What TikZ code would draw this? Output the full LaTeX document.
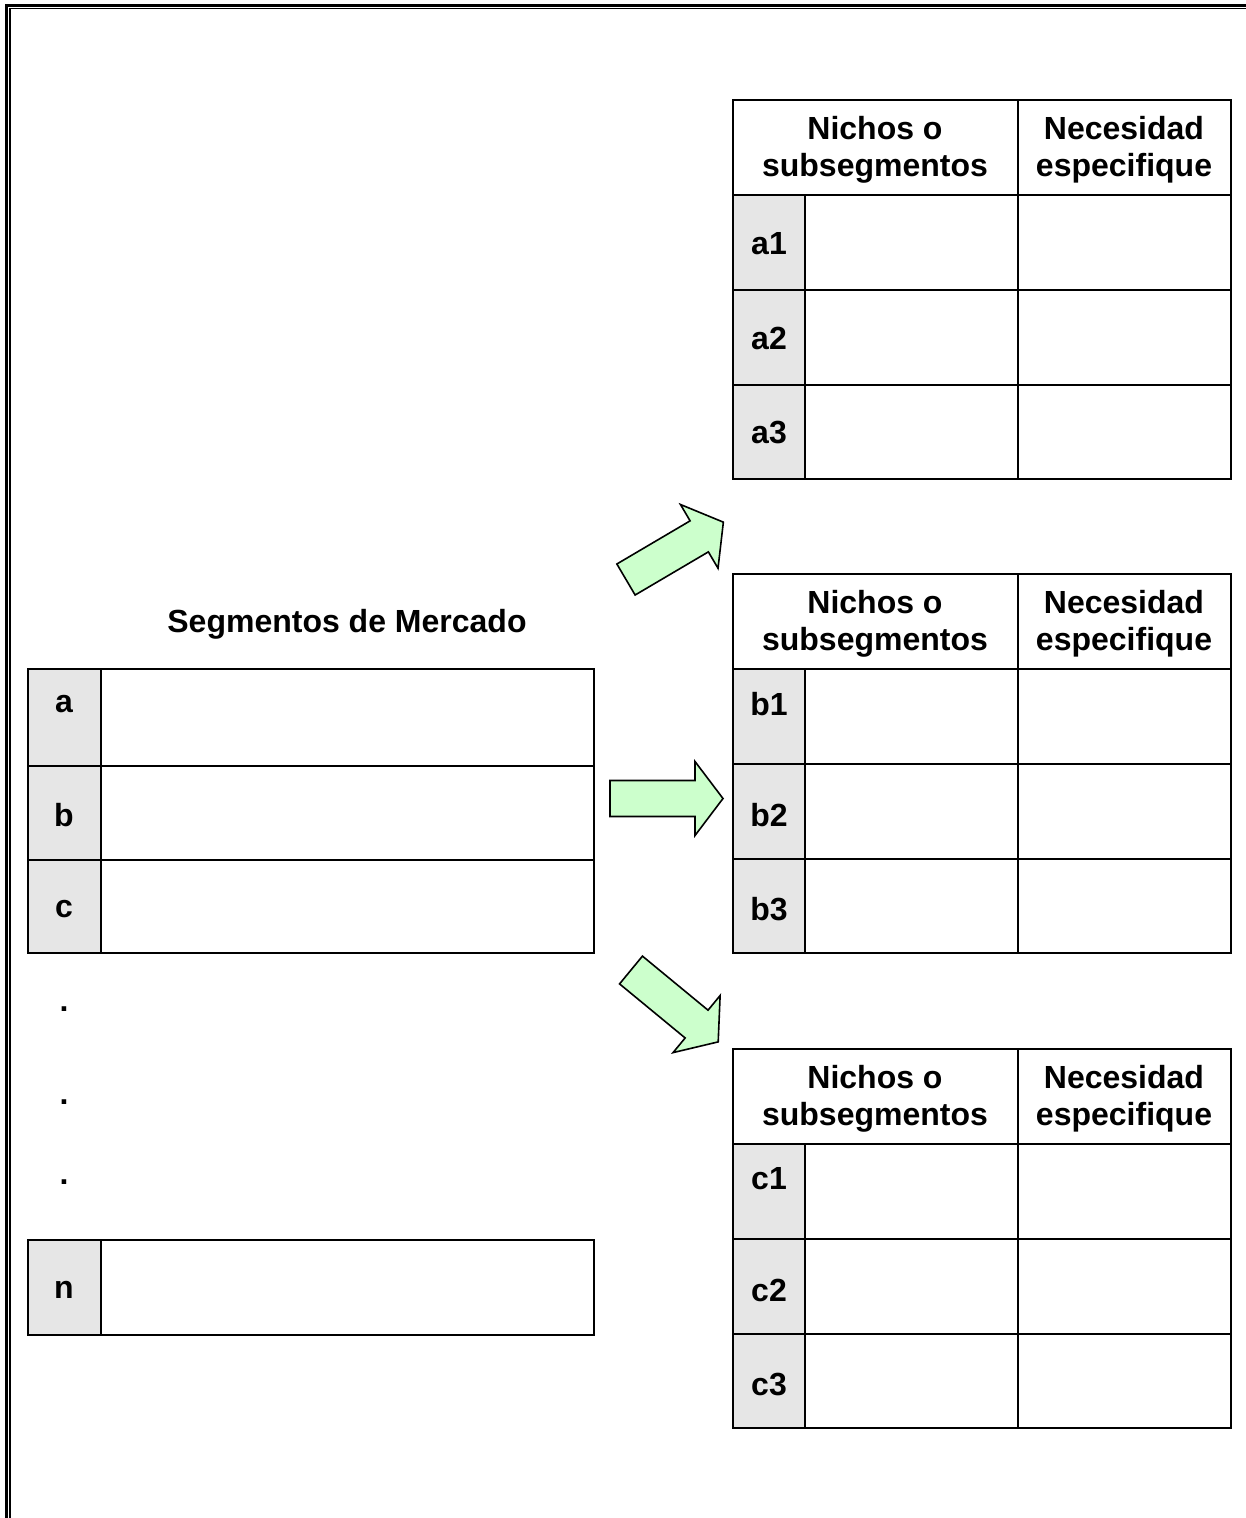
\documentclass[tikz,border=0pt]{standalone}
\usepackage{fontspec}
\setmainfont{Liberation Sans}
\definecolor{keygray}{RGB}{230,230,230}
\definecolor{arrowgreen}{RGB}{204,255,204}

% One table of niches: #1 top edge, #2 name prefix, #3-#5 label heights
\newcommand\nichetable[5]{%
  \fill[keygray] (733,#1+95) rectangle (805,#1+379);
  \draw[grid] (733,#1) rectangle (1231,#1+379);
  \draw[grid] (733,#1+95) -- (1231,#1+95)
              (733,#1+190) -- (1231,#1+190)
              (733,#1+285) -- (1231,#1+285)
              (1018,#1) -- (1018,#1+379)
              (805,#1+95) -- (805,#1+379);
  \node[head] (#2head) at (875,#1+50) {Nichos o\\subsegmentos};
  \node[head] (#2need) at (1124,#1+50) {Necesidad\\especifique};
  \node[lbl] (#21) at (769,#3+2) {#21};
  \node[lbl] (#22) at (769,#4+2) {#22};
  \node[lbl] (#23) at (769,#5+2) {#23};
}

\begin{document}
\begin{tikzpicture}[x=1pt,y=-1pt,
  grid/.style={line width=2pt},
  lbl/.style={font=\fontsize{32}{37}\selectfont\bfseries, inner sep=0pt},
  head/.style={lbl, align=center},
  bigarrow/.style={draw=black, line width=1.6pt, fill=arrowgreen, line join=miter},
  blockarrow/.pic={\draw[bigarrow] (0pt,18pt) -- (85pt,18pt) -- (85pt,37pt)
      -- (113pt,0pt) -- (85pt,-37pt) -- (85pt,-18pt) -- (0pt,-18pt) -- cycle;}]

\useasboundingbox (0,0) rectangle (1246,1518);

% page frame: double rule on the top and left sides
\draw[line width=3pt] (6.5,1530) -- (6.5,5) -- (1260,5);
\draw[line width=1.5pt] (10,1530) -- (10,8.5) -- (1260,8.5);

% market segments
\node[lbl] (title) at (347,624) {Segmentos de Mercado};
\fill[keygray] (28,669) rectangle (101,953);
\draw[grid] (28,669) rectangle (594,953);
\draw[grid] (28,766) -- (594,766) (28,860) -- (594,860) (101,669) -- (101,953);
\node[lbl] (sa) at (64,704) {a};
\node[lbl] (sb) at (64,815) {b};
\node[lbl] (sc) at (64,909) {c};
\node[lbl] (dot1) at (64,1009) {.};
\node[lbl] (dot2) at (64,1102) {.};
\node[lbl] (dot3) at (64,1182) {.};
\fill[keygray] (28,1240) rectangle (101,1335);
\draw[grid] (28,1240) rectangle (594,1335);
\draw[grid] (101,1240) -- (101,1335);
\node[lbl] (sn) at (64,1290) {n};

% niche tables
\nichetable{100}{a}{242}{336}{431}
\nichetable{574}{b}{702}{813}{907}
\nichetable{1049}{c}{1177}{1288}{1382}

% block arrows
\pic[rotate=30.5] at (626,579.5) {blockarrow};
\pic at (610,798.5) {blockarrow};
\pic[rotate=-39.5] at (631,970) {blockarrow};
\end{tikzpicture}
\end{document}
